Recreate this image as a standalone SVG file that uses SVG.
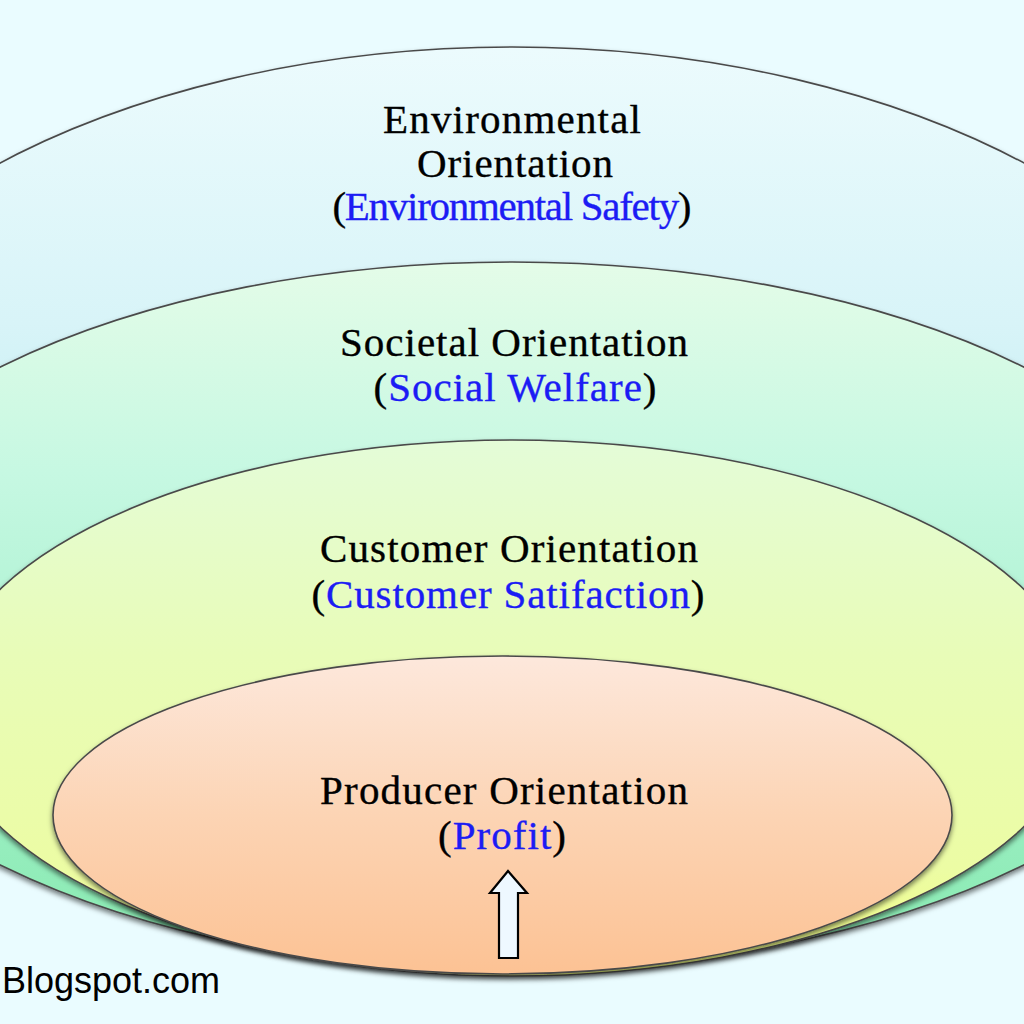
<svg xmlns="http://www.w3.org/2000/svg" width="1024" height="1024" viewBox="0 0 1024 1024">
  <defs>
    <linearGradient id="gEnv" x1="0" y1="0" x2="0" y2="1">
      <stop offset="0" stop-color="#ecfbfd"/>
      <stop offset="0.3" stop-color="#d8f4f8"/>
      <stop offset="0.6" stop-color="#b4e8ee"/>
      <stop offset="1" stop-color="#a0e4ea"/>
    </linearGradient>
    <linearGradient id="gSoc" x1="0" y1="0" x2="0" y2="1">
      <stop offset="0" stop-color="#e4fce8"/>
      <stop offset="0.3" stop-color="#c6f8e2"/>
      <stop offset="0.65" stop-color="#a4f0cc"/>
      <stop offset="1" stop-color="#86eaae"/>
    </linearGradient>
    <linearGradient id="gCus" x1="0" y1="0" x2="0" y2="1">
      <stop offset="0" stop-color="#e4fcd8"/>
      <stop offset="0.4" stop-color="#e8fcb8"/>
      <stop offset="0.8" stop-color="#ecfca4"/>
      <stop offset="1" stop-color="#f2ff80"/>
    </linearGradient>
    <linearGradient id="gPro" x1="0" y1="0" x2="0" y2="1">
      <stop offset="0" stop-color="#fde8dc"/>
      <stop offset="0.5" stop-color="#fcd4b4"/>
      <stop offset="1" stop-color="#fcc294"/>
    </linearGradient>
    <filter id="shadow" x="-10%" y="-10%" width="120%" height="130%">
      <feDropShadow dx="0" dy="3" stdDeviation="2.5" flood-color="#000" flood-opacity="0.5"/>
    </filter>
  </defs>
  <style>
    .ring { stroke: #4a4a4a; stroke-width: 1.6; filter: url(#shadow); }
    .t { font-family: "Liberation Serif", "Times New Roman", serif; font-size: 41px; fill: #000; stroke: #000; stroke-width: 0.35; text-anchor: middle; }
    .b { fill: #1c1cf4; stroke: #1c1cf4; }
    .wm { font-family: "Liberation Sans", Arial, sans-serif; font-size: 36px; fill: #000; }
  </style>
  <rect x="0" y="0" width="1024" height="1024" fill="#eafcff"/>

  <g id="environmental">
    <ellipse class="ring" cx="512" cy="508" rx="772" ry="461" fill="url(#gEnv)"/>
    <text class="t" x="512" y="133" textLength="258" lengthAdjust="spacing">Environmental</text>
    <text class="t" x="515" y="177" textLength="196" lengthAdjust="spacing">Orientation</text>
    <text class="t" x="512" y="220" textLength="359" lengthAdjust="spacing">(<tspan class="b">Environmental Safety</tspan>)</text>
  </g>

  <g id="societal">
    <ellipse class="ring" cx="512" cy="616" rx="720" ry="354" fill="url(#gSoc)"/>
    <text class="t" x="514" y="356" textLength="348" lengthAdjust="spacing">Societal Orientation</text>
    <text class="t" x="515" y="401" textLength="283" lengthAdjust="spacing">(<tspan class="b">Social Welfare</tspan>)</text>
  </g>

  <g id="customer">
    <ellipse class="ring" cx="512" cy="708" rx="571" ry="268" fill="url(#gCus)"/>
    <text class="t" x="509" y="562" textLength="378" lengthAdjust="spacing">Customer Orientation</text>
    <text class="t" x="508" y="608" textLength="393" lengthAdjust="spacing">(<tspan class="b">Customer Satifaction</tspan>)</text>
  </g>

  <g id="producer">
    <ellipse class="ring" cx="502.5" cy="815" rx="449.5" ry="159" fill="url(#gPro)"/>
    <text class="t" x="504" y="804" textLength="368" lengthAdjust="spacing">Producer Orientation</text>
    <text class="t" x="502" y="849" textLength="128" lengthAdjust="spacing">(<tspan class="b">Profit</tspan>)</text>
  </g>

  <g id="connectors">
    <polygon points="508,871 527,893 518,893 518,958 499,958 499,893 490,893" fill="#eef8ff" stroke="#000" stroke-width="2.2" stroke-linejoin="miter"/>
  </g>

  <text class="wm" x="2" y="993">Blogspot.com</text>
</svg>
